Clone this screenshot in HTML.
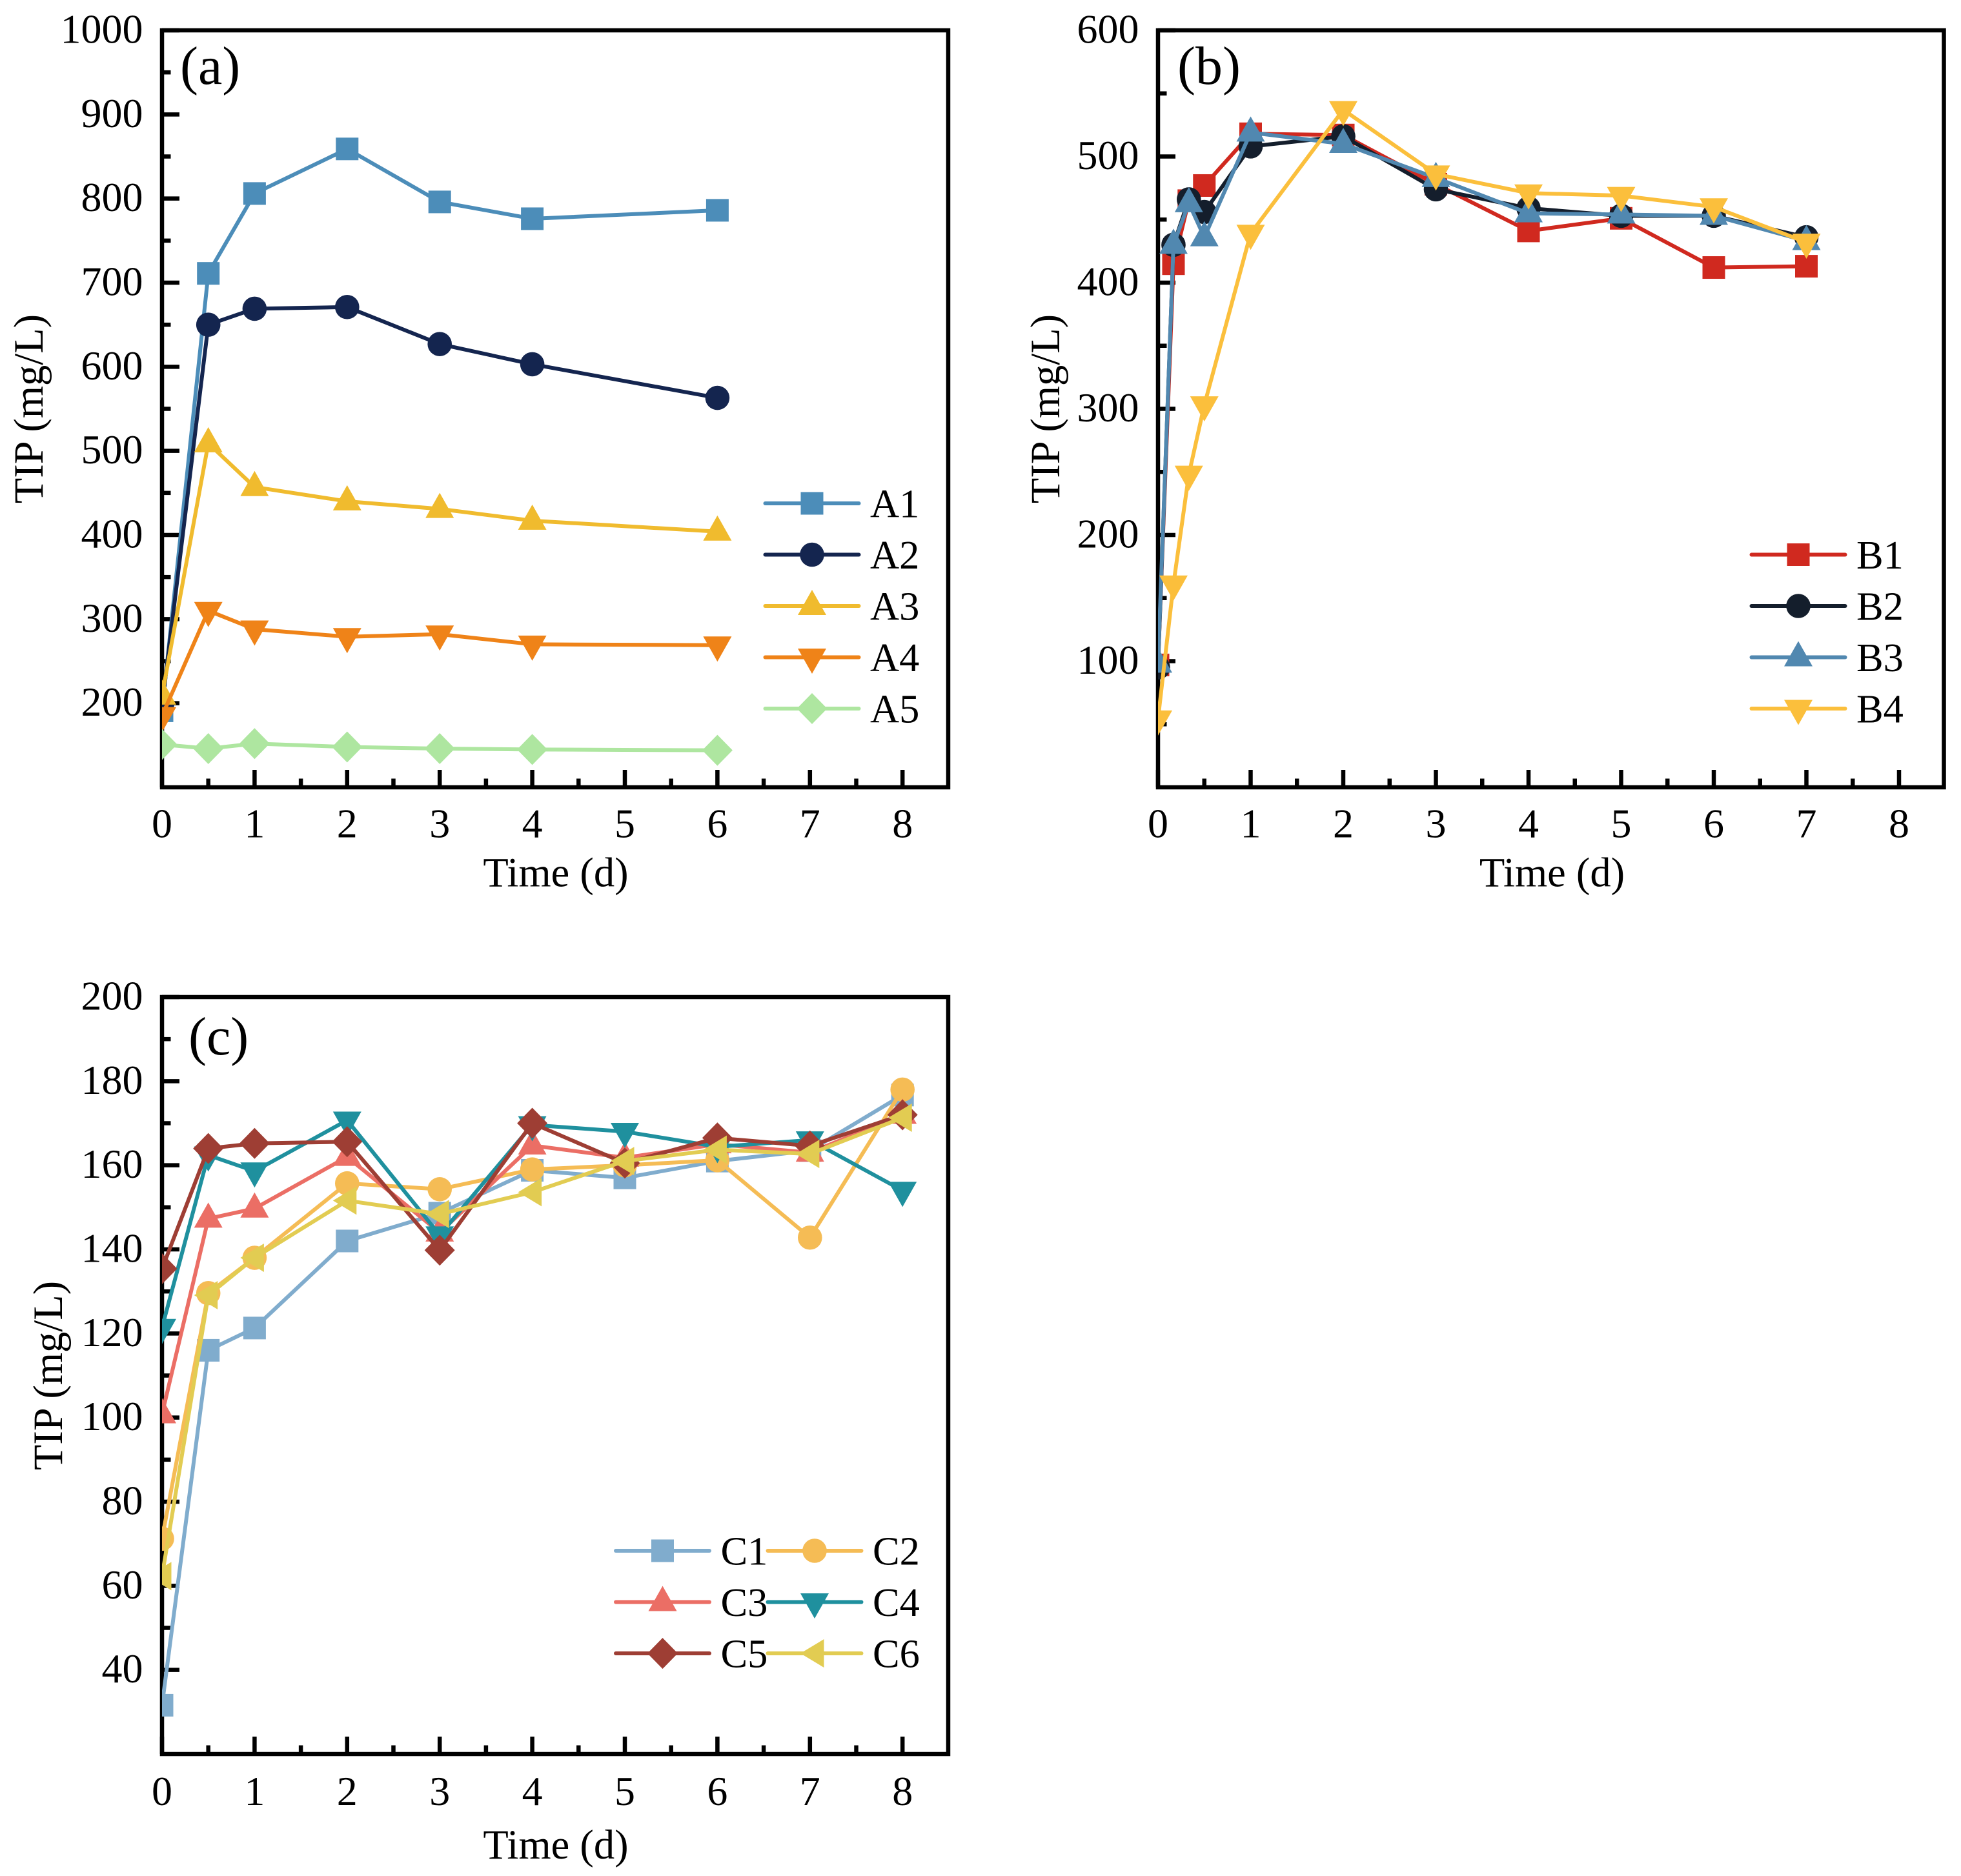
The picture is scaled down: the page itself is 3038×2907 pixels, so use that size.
<!DOCTYPE html>
<html>
<head>
<meta charset="utf-8">
<title>TIP over time</title>
<style>
html,body{margin:0;padding:0;background:#fff;}
svg{display:block;}
text{font-family:"Liberation Serif","Times New Roman",serif;fill:#000;}
</style>
</head>
<body>
<svg id="chart" xmlns="http://www.w3.org/2000/svg" width="3038" height="2907" viewBox="0 0 3038 2907">
  <rect x="0" y="0" width="3038" height="2907" fill="#fff"/>
  <defs>
    <clipPath id="clip-a"><rect x="251" y="47" width="1218" height="1173"/></clipPath>
    <clipPath id="clip-b"><rect x="1794" y="47" width="1217.5" height="1173"/></clipPath>
    <clipPath id="clip-c"><rect x="251" y="1545" width="1218" height="1173"/></clipPath>
  </defs>
  <g id="panel-a"></g>
  <g id="panel-b"></g>
  <g id="panel-c"></g>
  <text x="279" y="130" font-size="84">(a)</text>
  <text x="1824" y="130" font-size="84">(b)</text>
  <text x="292" y="1634" font-size="84">(c)</text>
  <text x="861" y="1373.5" font-size="64.5" text-anchor="middle">Time (d)</text>
  <text x="2404.5" y="1373.5" font-size="64.5" text-anchor="middle">Time (d)</text>
  <text x="861" y="2880" font-size="64.5" text-anchor="middle">Time (d)</text>
  <text transform="translate(66,633.5) rotate(-90)" font-size="64.5" text-anchor="middle">TIP (mg/L)</text>
  <text transform="translate(1641,633.5) rotate(-90)" font-size="64.5" text-anchor="middle">TIP (mg/L)</text>
  <text transform="translate(96,2131.5) rotate(-90)" font-size="64.5" text-anchor="middle">TIP (mg/L)</text>
</svg>
<script>
// ---------- x tick labels (shared) ----------
const xTickLabels = [0, 1, 2, 3, 4, 5, 6, 7, 8];

// ---------- panel (a) data ----------
const yTicksA = [200, 300, 400, 500, 600, 700, 800, 900, 1000];
const timesA = [0, 0.5, 1, 2, 3, 4, 6];
const seriesNamesA = ["A1", "A2", "A3", "A4", "A5"];
const a1 = [191, 711, 806, 859, 796, 776, 786];
const a2 = [197, 650, 669, 671, 627, 603, 563];
const a3 = [209, 509, 457, 440, 431, 417, 404];
const a4 = [185, 310, 288, 279, 282, 270, 269];
const a5 = [151, 146, 152, 148, 146, 145, 144];

// ---------- panel (b) data ----------
const yTicksB = [100, 200, 300, 400, 500, 600];
const timesB = [0, 0.167, 0.333, 0.5, 1, 2, 3, 4, 5, 6, 7];
const seriesNamesB = ["B1", "B2", "B3", "B4"];
const b1 = [97, 415, 465, 477, 518, 517, 478, 441, 451, 412, 413];
const b2 = [95, 430, 466, 456, 508, 516, 474, 459, 453, 453, 436];
const b3 = [98, 430, 463, 436, 519, 510, 483, 455, 454, 453, 433];
const b4 = [54, 161, 248, 303, 439, 537, 486, 471, 469, 460, 432];

// ---------- panel (c) data ----------
const yTicksC = [40, 60, 80, 100, 120, 140, 160, 180, 200];
const timesC = [0, 0.5, 1, 2, 3, 4, 5, 6, 7, 8];
const seriesNamesC = ["C1", "C2", "C3", "C4", "C5", "C6"];
const c1 = [31.6, 116, 121.3, 142, 148.6, 158.8, 157, 161, 163.5, 176.7];
const c2 = [71.2, 129.6, 138, 155.7, 154.3, 159, 160, 161.2, 142.8, 178];
const c3 = [100.8, 147.3, 149.7, 162, 144, 164.7, 161.8, 165, 163, 172];
const c4 = [121.4, 162.4, 158.6, 170.7, 143.4, 169.6, 168, 164.4, 166, 154];
const c5 = [135.4, 164, 165.2, 165.6, 139.8, 170, 160.5, 166.5, 164.6, 172];
const c6 = [62.3, 129.1, 138, 151.6, 148.4, 153.6, 161, 163.7, 162.7, 171.3];

// ---------- drawing helpers ----------
const NS = "http://www.w3.org/2000/svg";
const LINE_W = 6;
const AXIS_W = 6.5;
const FONT = 64;
const LEGEND_FONT = 62.5;

function make(tag, attrs, parent) {
  const el = document.createElementNS(NS, tag);
  for (const k in attrs) el.setAttribute(k, attrs[k]);
  parent.appendChild(el);
  return el;
}

function drawMarker(kind, cx, cy, color, parent) {
  let el;
  if (kind === "square") {
    el = make("rect", { x: cx - 17.5, y: cy - 17.5, width: 35, height: 35, fill: color }, parent);
  } else if (kind === "circle") {
    el = make("circle", { cx: cx, cy: cy, r: 18.8, fill: color }, parent);
  } else {
    let pts;
    if (kind === "up") pts = [[0, -25], [22, 14], [-22, 14]];
    if (kind === "down") pts = [[0, 25.5], [22, -13.5], [-22, -13.5]];
    if (kind === "diamond") pts = [[0, -24], [23.5, 0], [0, 24], [-23.5, 0]];
    if (kind === "left") pts = [[-22, 0], [14.5, -22], [14.5, 22]];
    el = make("polygon", { points: pts.map(p => (cx + p[0]) + "," + (cy + p[1])).join(" "), fill: color }, parent);
  }
  
  
  return el;
}

function drawPanel(cfg) {
  const root = document.getElementById(cfg.id);
  const L = cfg.left, R = cfg.right, T = cfg.top, B = cfg.bottom;
  const xScale = t => L + (t - 0) * cfg.xUnit;
  const yScale = v => B - (v - cfg.yMin) * (B - T) / (cfg.yMax - cfg.yMin);

  // x ticks
  for (let i = 0; i < xTickLabels.length; i++) {
    const t = xTickLabels[i];
    const major = make("line", { x1: xScale(t), x2: xScale(t), y1: B, y2: B - 27, stroke: "#000", "stroke-width": AXIS_W }, root);
    
    
    const lab = make("text", { x: xScale(t), y: B + cfg.xLabelOffset, "font-size": FONT, "text-anchor": "middle" }, root);
    lab.textContent = t;
    
    
    if (i < xTickLabels.length - 1) {
      const minor = make("line", { x1: xScale(t + 0.5), x2: xScale(t + 0.5), y1: B, y2: B - 13.5, stroke: "#000", "stroke-width": AXIS_W }, root);
      
      
    }
  }

  // y ticks
  const step = cfg.yTicks[1] - cfg.yTicks[0];
  for (let i = 0; i < cfg.yTicks.length; i++) {
    const v = cfg.yTicks[i];
    const major = make("line", { x1: L, x2: L + 27, y1: yScale(v), y2: yScale(v), stroke: "#000", "stroke-width": AXIS_W }, root);
    
    
    const lab = make("text", { x: cfg.yLabelX, y: yScale(v) + 19.5, "font-size": FONT, "text-anchor": "end" }, root);
    lab.textContent = v;
    
    
    const mv = v - step / 2;
    const minor = make("line", { x1: L, x2: L + 13.5, y1: yScale(mv), y2: yScale(mv), stroke: "#000", "stroke-width": AXIS_W }, root);
    
    
  }

  // frame
  const frame = make("rect", { x: L, y: T, width: R - L, height: B - T, fill: "none", stroke: "#000", "stroke-width": AXIS_W }, root);
  
  

  // series
  const plot = make("g", { "clip-path": "url(#" + cfg.clip + ")" }, root);
  
  
  cfg.series.forEach(function (s, idx) {
    const g = make("g", {}, plot);
    
    
    const pts = s.values.map((v, i) => xScale(cfg.times[i]) + "," + yScale(v)).join(" ");
    const line = make("polyline", { points: pts, fill: "none", stroke: s.color, "stroke-width": LINE_W, "stroke-linejoin": "round", "stroke-linecap": "round" }, g);
    
    
    s.values.forEach(function (v, i) {
      drawMarker(s.marker, xScale(cfg.times[i]), yScale(v), s.color, g);
    });
  });

  // legend
  cfg.series.forEach(function (s, idx) {
    const e = cfg.legendAt(idx);
    const g = make("g", {}, root);
    
    
    const line = make("line", { x1: e.x + 2.5, x2: e.x + 147.5, y1: e.y, y2: e.y, stroke: s.color, "stroke-width": LINE_W, "stroke-linecap": "round" }, g);
    
    
    drawMarker(s.marker, e.x + 75, e.y, s.color, g);
    const lab = make("text", { x: e.x + 165, y: e.y + 21.5, "font-size": LEGEND_FONT }, g);
    lab.textContent = cfg.names[idx];
    
    
  });
}

drawPanel({
  id: "panel-a", clip: "clip-a", left: 251, right: 1469, top: 47, bottom: 1220, xUnit: 143.4,
  yMin: 100, yMax: 1000, yTicks: yTicksA, yLabelX: 221.5, xLabelOffset: 77.5, times: timesA, names: seriesNamesA,
  series: [
    { values: a1, color: "#4C8DB9", marker: "square" },
    { values: a2, color: "#14254F", marker: "circle" },
    { values: a3, color: "#F0BB2E", marker: "up" },
    { values: a4, color: "#EF8318", marker: "down" },
    { values: a5, color: "#AEE6A0", marker: "diamond" }
  ],
  legendAt: i => ({ x: 1183, y: 780 + i * 79.5 })
});

drawPanel({
  id: "panel-b", clip: "clip-b", left: 1794, right: 3011.5, top: 47, bottom: 1220, xUnit: 143.5,
  yMin: 0, yMax: 600, yTicks: yTicksB, yLabelX: 1764.5, xLabelOffset: 77.5, times: timesB, names: seriesNamesB,
  series: [
    { values: b1, color: "#D0291F", marker: "square" },
    { values: b2, color: "#141E2C", marker: "circle" },
    { values: b3, color: "#5188B0", marker: "up" },
    { values: b4, color: "#FBBF3C", marker: "down" }
  ],
  legendAt: i => ({ x: 2711, y: 859.5 + i * 79.5 })
});

drawPanel({
  id: "panel-c", clip: "clip-c", left: 251, right: 1469, top: 1545, bottom: 2718, xUnit: 143.4,
  yMin: 20, yMax: 200, yTicks: yTicksC, yLabelX: 221.5, xLabelOffset: 79, times: timesC, names: seriesNamesC,
  series: [
    { values: c1, color: "#80ACCD", marker: "square" },
    { values: c2, color: "#F5BC55", marker: "circle" },
    { values: c3, color: "#EB6E65", marker: "up" },
    { values: c4, color: "#1F909E", marker: "down" },
    { values: c5, color: "#9E3E34", marker: "diamond" },
    { values: c6, color: "#E2CC52", marker: "left" }
  ],
  legendAt: i => ({ x: i % 2 === 0 ? 951.5 : 1187, y: 2403 + Math.floor(i / 2) * 79.5 })
});
</script>
</body>
</html>
